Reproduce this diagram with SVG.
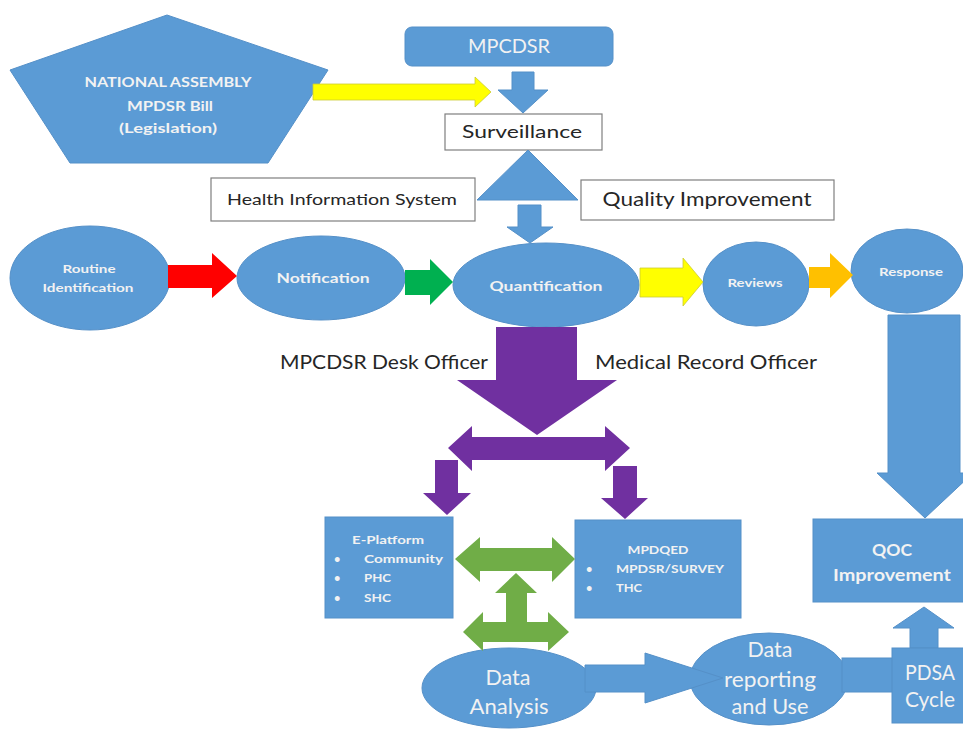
<svg xmlns="http://www.w3.org/2000/svg" width="963" height="729" viewBox="0 0 963 729">
<style>
.b{fill:#5B9BD5;stroke:#5590c8;stroke-width:1}
.w{fill:#ffffff;stroke:#7f7f7f;stroke-width:1.2}
.t{font-family:Lato,"Open Sans","Liberation Sans",sans-serif;fill:#f2f2f2;text-anchor:middle}
.bo{font-weight:bold}
.k{font-family:Lato,"Open Sans","Liberation Sans",sans-serif;fill:#262626;text-anchor:middle}
.l{font-family:Lato,"Open Sans","Liberation Sans",sans-serif;fill:#f2f2f2;font-weight:bold;font-size:11px}
.pu{fill:#7030A0}
.gr{fill:#70AD47}
</style>
<rect width="963" height="729" fill="#ffffff"/>

<g id="national-assembly">
<polygon class="b" points="167,15 328,70 268,163 70,163 10,70"/>
<text class="t bo" x="168" y="87" font-size="14" textLength="167" lengthAdjust="spacingAndGlyphs">NATIONAL ASSEMBLY</text>
<text class="t bo" x="170" y="111" font-size="14" textLength="86" lengthAdjust="spacingAndGlyphs">MPDSR Bill</text>
<text class="t bo" x="168" y="133" font-size="14" textLength="98" lengthAdjust="spacingAndGlyphs">(Legislation)</text>
</g>

<g id="mpcdsr">
<rect class="b" x="405" y="27" width="208" height="39" rx="7"/>
<text class="t" x="509" y="53" font-size="19" textLength="82" lengthAdjust="spacingAndGlyphs">MPCDSR</text>
</g>

<g id="surveillance">
<rect class="w" x="445" y="114" width="157" height="36"/>
<text class="k" x="522" y="138" font-size="18" textLength="120" lengthAdjust="spacingAndGlyphs">Surveillance</text>
</g>

<g id="his">
<rect class="w" x="211" y="178" width="264" height="43"/>
<text class="k" x="342" y="205" font-size="16" textLength="230" lengthAdjust="spacingAndGlyphs">Health Information System</text>
</g>

<g id="qi">
<rect class="w" x="581" y="180" width="253" height="40"/>
<text class="k" x="707" y="206" font-size="19" textLength="209" lengthAdjust="spacingAndGlyphs">Quality Improvement</text>
</g>

<g id="routine">
<ellipse class="b" cx="90" cy="278" rx="80" ry="52"/>
<text class="t bo" x="89" y="273" font-size="11" textLength="53" lengthAdjust="spacingAndGlyphs">Routine</text>
<text class="t bo" x="88" y="292" font-size="11" textLength="91" lengthAdjust="spacingAndGlyphs">Identification</text>
</g>

<g id="notification">
<ellipse class="b" cx="321" cy="278" rx="84" ry="42"/>
<text class="t bo" x="323" y="283" font-size="14" textLength="93" lengthAdjust="spacingAndGlyphs">Notification</text>
</g>

<g id="quantification">
<ellipse class="b" cx="546" cy="285" rx="93" ry="42"/>
<text class="t bo" x="546" y="291" font-size="14" textLength="113" lengthAdjust="spacingAndGlyphs">Quantification</text>
</g>

<g id="reviews">
<ellipse class="b" cx="756" cy="284" rx="53" ry="42"/>
<text class="t bo" x="755" y="287" font-size="11" textLength="55" lengthAdjust="spacingAndGlyphs">Reviews</text>
</g>

<g id="response">
<ellipse class="b" cx="907" cy="271" rx="56" ry="42"/>
<text class="t bo" x="911" y="276" font-size="11" textLength="64" lengthAdjust="spacingAndGlyphs">Response</text>
</g>

<g id="labels">
<text class="k" x="384" y="369" font-size="19" textLength="208" lengthAdjust="spacingAndGlyphs">MPCDSR Desk Officer</text>
<text class="k" x="706" y="369" font-size="19" textLength="222" lengthAdjust="spacingAndGlyphs">Medical Record Officer</text>
</g>

<g id="e-platform">
<rect class="b" x="325" y="517" width="128" height="101"/>
<text class="t bo" x="388" y="544" font-size="12" textLength="72" lengthAdjust="spacingAndGlyphs">E-Platform</text>
<text class="l" x="334" y="563">•</text>
<text class="l" x="364" y="563" textLength="79" lengthAdjust="spacingAndGlyphs">Community</text>
<text class="l" x="334" y="582">•</text>
<text class="l" x="364" y="582" textLength="27" lengthAdjust="spacingAndGlyphs">PHC</text>
<text class="l" x="334" y="602">•</text>
<text class="l" x="364" y="602" textLength="27" lengthAdjust="spacingAndGlyphs">SHC</text>
</g>

<g id="mpdqed">
<rect class="b" x="575" y="520" width="166" height="98"/>
<text class="t bo" x="658" y="554" font-size="12" textLength="61" lengthAdjust="spacingAndGlyphs">MPDQED</text>
<text class="l" x="586" y="573">•</text>
<text class="l" x="616" y="573" textLength="108" lengthAdjust="spacingAndGlyphs">MPDSR/SURVEY</text>
<text class="l" x="586" y="592">•</text>
<text class="l" x="616" y="592" textLength="26" lengthAdjust="spacingAndGlyphs">THC</text>
</g>

<g id="qoc">
<rect class="b" x="813" y="519" width="155" height="83"/>
<text class="t bo" x="892" y="556" font-size="17" textLength="40" lengthAdjust="spacingAndGlyphs">QOC</text>
<text class="t bo" x="892" y="581" font-size="17" textLength="118" lengthAdjust="spacingAndGlyphs">Improvement</text>
</g>

<g id="data-reporting">
<ellipse class="b" cx="769" cy="679" rx="79" ry="46"/>
<text class="t" x="770" y="657" font-size="21" textLength="45" lengthAdjust="spacingAndGlyphs">Data</text>
<text class="t" x="770" y="687" font-size="21" textLength="92" lengthAdjust="spacingAndGlyphs">reporting</text>
<text class="t" x="770" y="714" font-size="21" textLength="77" lengthAdjust="spacingAndGlyphs">and Use</text>
</g>

<g id="data-analysis">
<ellipse class="b" cx="509" cy="688" rx="87" ry="40"/>
<text class="t" x="508" y="685" font-size="22" textLength="45" lengthAdjust="spacingAndGlyphs">Data</text>
<text class="t" x="509" y="714" font-size="22" textLength="79" lengthAdjust="spacingAndGlyphs">Analysis</text>
</g>

<g id="connectors">
<polygon points="313,84 475,84 475,77 491,92 475,107 475,100 313,100" fill="#FFFF00" stroke="#cccc33" stroke-width="0.8"/>
<polygon class="b" points="512,72 534,72 534,90 548,90 523,113 498,90 512,90"/>
<polygon class="b" points="528,150 578,200 477,200"/>
<polygon class="b" points="518,205 541,205 541,227 553,227 530,243 507,227 518,227"/>
<polygon points="168,265 212,265 212,253 237,276 212,298 212,288 168,288" fill="#FF0000"/>
<polygon points="405,270 430,270 430,259 453,282 430,305 430,295 405,295" fill="#00B050"/>
<polygon points="640,268 683,268 683,258 703,282 683,306 683,297 640,297" fill="#FFFF00" stroke="#cccc33" stroke-width="0.8"/>
<polygon points="809,267 830,267 830,253 853,275 830,298 830,288 809,288" fill="#FFC000"/>
<polygon class="b" points="888,315 960,315 960,473 973,473 925,518 877,473 888,473"/>
<polygon class="pu" points="496,327 577,327 577,380 617,380 537,435 457,380 496,380"/>
<polygon class="pu" points="448,448 472,426 472,437 605,437 605,426 630,448 605,471 605,460 472,460 472,471"/>
<polygon class="pu" points="435,460 458,460 458,493 471,493 447,515 423,493 435,493"/>
<polygon class="pu" points="613,466 637,466 637,498 648,498 625,519 601,498 613,498"/>
<polygon class="gr" points="455,559 480,537 480,548 552,548 552,537 575,559 552,582 552,571 480,571 480,582"/>
<polygon class="gr" points="516,573 537,593 527,593 527,625 506,625 506,593 495,593"/>
<polygon class="gr" points="463,632 483,612 483,622 548,622 548,612 569,632 548,651 548,642 483,642 483,651"/>
<polygon class="b" points="585,665 645,665 645,653 723,678 645,703 645,692 585,692" stroke="#4a80b0"/>
<rect class="b" x="842" y="658" width="51" height="34"/>
<polygon class="b" points="924,607 954,628 938,628 938,648 910,648 910,628 893,628"/>
</g>

<g id="pdsa">
<rect class="b" x="892" y="648" width="75" height="75" stroke="#4a80b0"/>
<text class="t" x="930" y="680" font-size="21" textLength="50" lengthAdjust="spacingAndGlyphs">PDSA</text>
<text class="t" x="930" y="707" font-size="21" textLength="50" lengthAdjust="spacingAndGlyphs">Cycle</text>
</g>
</svg>
